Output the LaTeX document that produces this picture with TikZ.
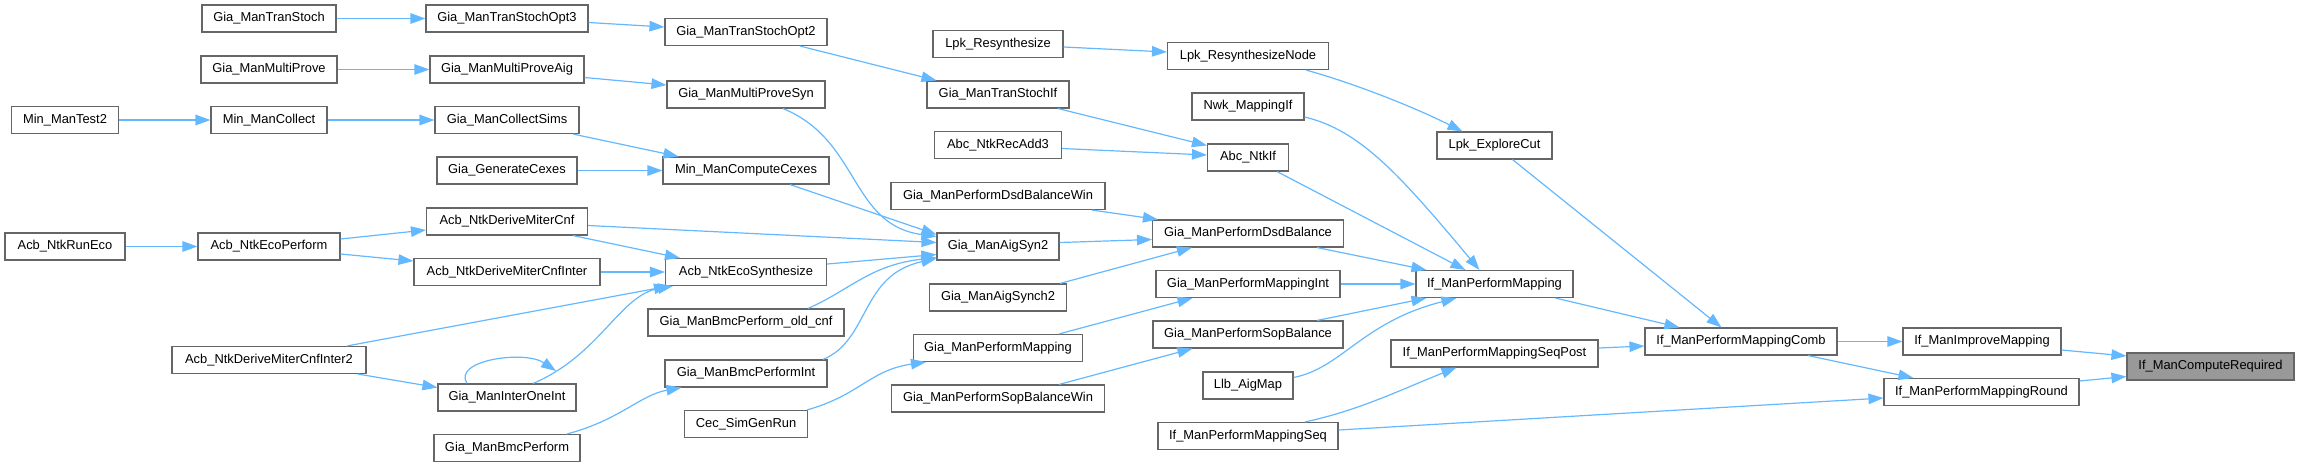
\documentclass[tikz,border=0pt]{standalone}
\usepackage{fontspec}
\setmainfont{Liberation Sans}
\usetikzlibrary{arrows.meta}
\definecolor{edgeblue}{HTML}{63B8FF}
\definecolor{boxline}{HTML}{666666}
\definecolor{hilite}{HTML}{999999}
\begin{document}
\begin{tikzpicture}[x=1pt,y=-1pt,
  box/.style={draw=boxline,line width=1.1pt,fill=white,rectangle,inner sep=0pt,minimum height=27pt,
    font=\fontsize{12.9}{15}\selectfont,text=black},
  e/.style={draw=edgeblue,line width=1.2pt,-{Triangle[length=15pt,width=10.5pt]}}]
\useasboundingbox (0,0) rectangle (2299,467);
% column 1
\node[box,minimum width=107pt] (test2) at (65,120) {Min\_ManTest2};
\node[box,minimum width=120pt] (runEco) at (65,246.5) {Acb\_NtkRunEco};
% column 2
\node[box,minimum width=134pt] (tranStoch) at (269,18.5) {Gia\_ManTranStoch};
\node[box,minimum width=136pt] (multiProve) at (269,69.5) {Gia\_ManMultiProve};
\node[box,minimum width=116pt] (collect) at (269,120) {Min\_ManCollect};
\node[box,minimum width=142pt] (ecoPerf) at (269,246.5) {Acb\_NtkEcoPerform};
\node[box,minimum width=194pt] (dmci2) at (269,360) {Acb\_NtkDeriveMiterCnfInter2};
% column 3
\node[box,minimum width=162pt] (tso3) at (507,18.5) {Gia\_ManTranStochOpt3};
\node[box,minimum width=154pt] (mpAig) at (507,69.5) {Gia\_ManMultiProveAig};
\node[box,minimum width=144pt] (collectSims) at (507,120) {Gia\_ManCollectSims};
\node[box,minimum width=140pt] (genCexes) at (507,170.5) {Gia\_GenerateCexes};
\node[box,minimum width=161pt] (dmc) at (507,221.5) {Acb\_NtkDeriveMiterCnf};
\node[box,minimum width=186pt] (dmci) at (507,272) {Acb\_NtkDeriveMiterCnfInter};
\node[box,minimum width=138pt] (interOne) at (507,397.5) {Gia\_ManInterOneInt};
\node[box,minimum width=146pt] (bmcPerf) at (507,448) {Gia\_ManBmcPerform};
% column 4
\node[box,minimum width=162pt] (tso2) at (746,32) {Gia\_ManTranStochOpt2};
\node[box,minimum width=158pt] (mpSyn) at (746,94.5) {Gia\_ManMultiProveSyn};
\node[box,minimum width=166pt] (compCexes) at (746,170.5) {Min\_ManComputeCexes};
\node[box,minimum width=161pt] (ecoSyn) at (746,272) {Acb\_NtkEcoSynthesize};
\node[box,minimum width=196pt] (bmcOld) at (746,322.5) {Gia\_ManBmcPerform\_old\_cnf};
\node[box,minimum width=162pt] (bmcInt) at (746,373.5) {Gia\_ManBmcPerformInt};
\node[box,minimum width=123pt] (simGen) at (746,424) {Cec\_SimGenRun};
% column 5
\node[box,minimum width=130pt] (lpkRes) at (998,44) {Lpk\_Resynthesize};
\node[box,minimum width=142pt] (tsIf) at (998,94.5) {Gia\_ManTranStochIf};
\node[box,minimum width=127pt] (recAdd3) at (998,145) {Abc\_NtkRecAdd3};
\node[box,minimum width=214pt] (dsdWin) at (998,196) {Gia\_ManPerformDsdBalanceWin};
\node[box,minimum width=122pt] (aigSyn2) at (998,246.5) {Gia\_ManAigSyn2};
\node[box,minimum width=137pt] (aigSynch2) at (998,297.5) {Gia\_ManAigSynch2};
\node[box,minimum width=169pt] (gpm) at (998,348) {Gia\_ManPerformMapping};
\node[box,minimum width=213pt] (sopWin) at (998,398.5) {Gia\_ManPerformSopBalanceWin};
% column 6
\node[box,minimum width=161pt] (lpkResNode) at (1248,56) {Lpk\_ResynthesizeNode};
\node[box,minimum width=112pt] (nwk) at (1248,106.5) {Nwk\_MappingIf};
\node[box,minimum width=81pt] (ntkIf) at (1248,157.5) {Abc\_NtkIf};
\node[box,minimum width=191pt] (dsd) at (1248,233.5) {Gia\_ManPerformDsdBalance};
\node[box,minimum width=184pt] (gpmInt) at (1248,284) {Gia\_ManPerformMappingInt};
\node[box,minimum width=190pt] (sop) at (1248,334.5) {Gia\_ManPerformSopBalance};
\node[box,minimum width=90pt] (llb) at (1248,385.5) {Llb\_AigMap};
\node[box,minimum width=180pt] (seq) at (1248,436) {If\_ManPerformMappingSeq};
% column 7
\node[box,minimum width=115pt] (explore) at (1494.5,145.5) {Lpk\_ExploreCut};
\node[box,minimum width=157pt] (ifpm) at (1494.5,284) {If\_ManPerformMapping};
\node[box,minimum width=207pt] (seqPost) at (1494.5,353.5) {If\_ManPerformMappingSeqPost};
% column 8-10
\node[box,minimum width=192pt] (comb) at (1741,341.5) {If\_ManPerformMappingComb};
\node[box,minimum width=158pt] (improve) at (1982,341.5) {If\_ManImproveMapping};
\node[box,minimum width=195pt] (round) at (1981.5,392) {If\_ManPerformMappingRound};
\node[box,minimum width=167pt,fill=hilite] (req) at (2210.5,366.5) {If\_ManComputeRequired};
% edges
\draw[e] (tranStoch) -- (tso3);
\draw[e] ([yshift=-4pt]tso3.east) -- ([yshift=5pt]tso2.west);
\draw[e] ([xshift=54pt]tso2.south) -- ([xshift=10pt]tsIf.north west);
\draw[e] (multiProve) -- (mpAig);
\draw[e] ([yshift=-8pt]mpAig.east) -- ([yshift=9.5pt]mpSyn.west);
\draw[e] ([xshift=37pt]mpSyn.south) .. controls (860,140) and (850,225) .. ([yshift=10pt]aigSyn2.west);
\draw[e] (test2) -- (collect);
\draw[e] (collect) -- (collectSims);
\draw[e] ([xshift=66pt]collectSims.south) -- ([xshift=16pt]compCexes.north west);
\draw[e] (genCexes) -- (compCexes);
\draw[e] ([xshift=44pt]compCexes.south) -- ([yshift=12pt]aigSyn2.west);
\draw[e] (runEco) -- (ecoPerf);
\draw[e] ([yshift=7.5pt]ecoPerf.east) -- ([yshift=-8.5pt]dmc.west);
\draw[e] ([yshift=-7.5pt]ecoPerf.east) -- ([yshift=11pt]dmci.west);
\draw[e] ([yshift=-4pt]dmc.east) -- ([yshift=4pt]aigSyn2.west);
\draw[e] ([xshift=66pt]dmc.south) -- ([xshift=15pt]ecoSyn.north west);
\draw[e] (dmci) -- (ecoSyn);
\draw[e] ([xshift=78pt]dmci2.north) -- ([xshift=4pt]ecoSyn.south west);
\draw[e] ([yshift=8pt]ecoSyn.east) -- ([yshift=-8pt]aigSyn2.west);
\draw[e] ([xshift=89pt]dmci2.south) -- ([yshift=10pt]interOne.west);
\draw[e] ([xshift=-40pt]interOne.north) .. controls (452,360) and (525,350) .. (556,371);
\draw[e] ([xshift=26pt]interOne.north) .. controls (600,355) and (620,295) .. ([xshift=8pt]ecoSyn.south west);
\draw[e] ([xshift=62pt]bmcOld.north) .. controls (850,290) and (870,265) .. ([yshift=-11pt]aigSyn2.west);
\draw[e] ([xshift=77pt]bmcInt.north) .. controls (870,340) and (860,275) .. ([yshift=-12pt]aigSyn2.west);
\draw[e] ([xshift=60pt]bmcPerf.north) .. controls (620,420) and (640,395) .. ([xshift=17pt]bmcInt.south west);
\draw[e] ([xshift=61pt]simGen.north) .. controls (860,395) and (870,370) .. ([xshift=13pt]gpm.south west);
\draw[e] ([yshift=-3pt]lpkRes.east) -- ([yshift=4pt]lpkResNode.west);
\draw[e] ([xshift=58pt]lpkResNode.south) .. controls (1360,85) and (1420,110) .. ([xshift=26pt]explore.north west);
\draw[e] ([xshift=60pt]tsIf.south) -- ([yshift=12pt]ntkIf.west);
\draw[e] ([yshift=-3.5pt]recAdd3.east) -- ([yshift=2.5pt]ntkIf.west);
\draw[e] ([yshift=-10.5pt]nwk.east) .. controls (1360,130) and (1400,175) .. ([xshift=64pt]ifpm.north west);
\draw[e] ([xshift=29pt]ntkIf.south) -- ([xshift=50pt]ifpm.north west);
\draw[e] ([xshift=94pt]dsdWin.south) -- ([xshift=6pt]dsd.north west);
\draw[e] ([yshift=4pt]aigSyn2.east) -- ([yshift=-6pt]dsd.west);
\draw[e] ([xshift=62pt]aigSynch2.north) -- ([xshift=40pt]dsd.south west);
\draw[e] ([xshift=69pt]dsd.south) -- ([xshift=11pt]ifpm.north west);
\draw[e] ([xshift=61pt]gpm.north) -- ([xshift=37pt]gpmInt.south west);
\draw[e] (gpmInt) -- (ifpm);
\draw[e] ([xshift=61pt]sopWin.north) -- ([xshift=40pt]sop.south west);
\draw[e] ([xshift=69pt]sop.north) -- ([xshift=11pt]ifpm.south west);
\draw[e] ([yshift=8pt]llb.east) .. controls (1342,368) and (1362,322) .. ([xshift=41pt]ifpm.south west);
\draw[e] ([xshift=57pt]seq.north) .. controls (1360,410) and (1400,390) .. ([xshift=66pt]seqPost.south west);
\draw[e] ([yshift=6pt]seq.east) -- ([yshift=-6pt]round.west);
\draw[e] ([xshift=18pt]explore.south) -- ([xshift=77pt]comb.north west);
\draw[e] ([xshift=61pt]ifpm.south) -- ([xshift=35pt]comb.north west);
\draw[e] ([yshift=5.5pt]seqPost.east) -- ([yshift=-4.5pt]comb.west);
\draw[e] (comb) -- (improve);
\draw[e] ([xshift=67pt]comb.south) -- ([xshift=30pt]round.north west);
\draw[e] ([yshift=-8.5pt]improve.east) -- ([yshift=10.5pt]req.west);
\draw[e] ([yshift=11pt]round.east) -- ([yshift=-10pt]req.west);
\end{tikzpicture}
\end{document}
